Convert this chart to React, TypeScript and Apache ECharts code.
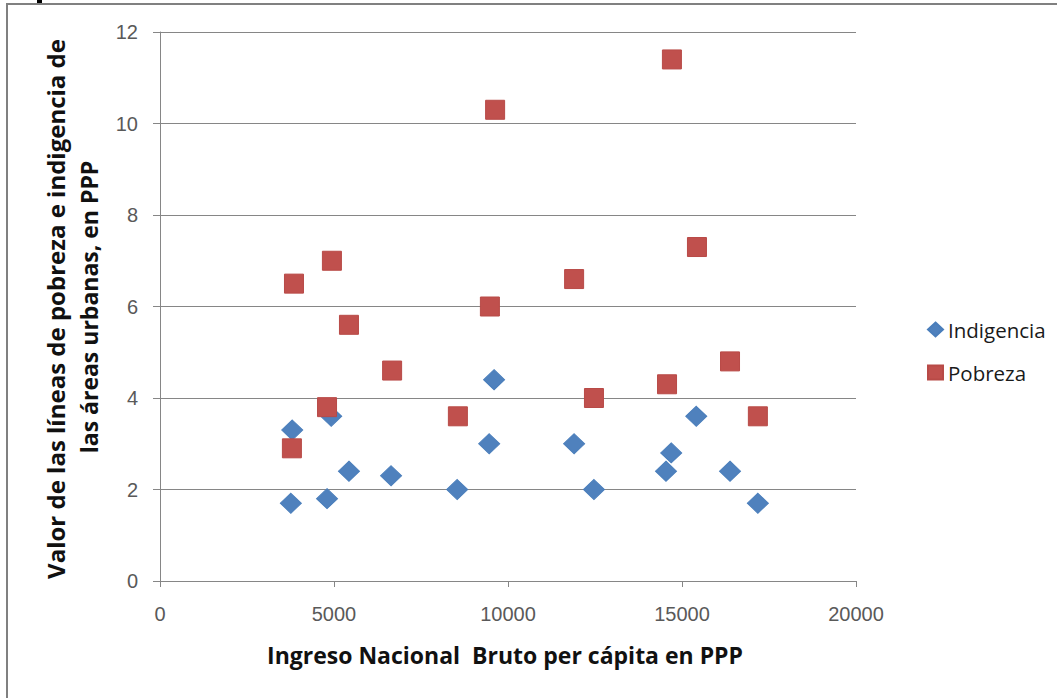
import React, { useEffect, useRef } from "react";
import * as echarts from "echarts";

const seriesNames = ["Indigencia", "Pobreza"];

const indigenciaX = [3800, 3760, 4920, 4800, 5430, 6640, 8540, 9460, 9600, 11900, 12470, 14540, 14690, 15410, 16380, 17180];
const indigenciaY = [3.3, 1.7, 3.6, 1.8, 2.4, 2.3, 2.0, 3.0, 4.4, 3.0, 2.0, 2.4, 2.8, 3.6, 2.4, 1.7];

const pobrezaX = [3850, 3790, 4940, 4800, 5430, 6670, 8560, 9480, 9630, 11900, 12470, 14570, 14710, 15430, 16380, 17180];
const pobrezaY = [6.5, 2.9, 7.0, 3.8, 5.6, 4.6, 3.6, 6.0, 10.3, 6.6, 4.0, 4.3, 11.4, 7.3, 4.8, 3.6];

const xTitle = "Ingreso Nacional  Bruto per cápita en PPP";
const yTitleLine1 = "Valor de las líneas de pobreza e indigencia de";
const yTitleLine2 = "las áreas urbanas, en PPP";

const xMin = 0, xMax = 20000, xStep = 5000;
const yMin = 0, yMax = 12, yStep = 2;

export default function App() {
  const ref = useRef<HTMLDivElement>(null);
  useEffect(() => {
    if (!ref.current) return;
    const chart = echarts.init(ref.current, undefined, { renderer: "svg" });
    const pair = (xs: number[], ys: number[]) => xs.map((x, i) => [x, ys[i]]);
    const gray = "#868686";
    const tickFont = { fontFamily: "Liberation Sans", fontSize: 20, color: "#595959" };
    chart.setOption({
      animation: false,
      backgroundColor: "#ffffff",
      grid: { left: 160, right: 201, top: 32, bottom: 117, containLabel: false },
      xAxis: {
        type: "value", min: xMin, max: xMax, interval: xStep,
        axisLine: { show: true, lineStyle: { color: gray, width: 1 } },
        axisTick: { show: true, length: 6, lineStyle: { color: gray } },
        splitLine: { show: false },
        axisLabel: { ...tickFont, margin: 23, formatter: (v: number) => String(v) },
      },
      yAxis: {
        type: "value", min: yMin, max: yMax, interval: yStep,
        axisLine: { show: true, lineStyle: { color: gray, width: 1 } },
        axisTick: { show: true, length: 7, lineStyle: { color: gray } },
        splitLine: { show: true, lineStyle: { color: gray, width: 1 } },
        axisLabel: { ...tickFont, margin: 22, formatter: (v: number) => String(v) },
      },
      legend: {
        orient: "vertical",
        left: 927,
        top: 319,
        padding: 0,
        itemWidth: 15,
        itemHeight: 14,
        itemGap: 22,
        textStyle: { fontFamily: "Open Sans", fontSize: 20.5, color: "#1a1a1a", padding: [0, 0, 0, 0] },
        data: [
          { name: seriesNames[0], icon: "diamond" },
          { name: seriesNames[1], icon: "rect" },
        ],
      },
      series: [
        {
          name: seriesNames[0],
          type: "scatter",
          symbol: "diamond",
          symbolSize: [21, 20],
          itemStyle: { color: "#4F81BD", borderColor: "#4A7EBB", borderWidth: 1, opacity: 1 },
          data: pair(indigenciaX, indigenciaY),
          z: 2,
        },
        {
          name: seriesNames[1],
          type: "scatter",
          symbol: "rect",
          symbolSize: 19,
          itemStyle: { color: "#C0504D", borderColor: "#B84A47", borderWidth: 1, opacity: 1 },
          data: pair(pobrezaX, pobrezaY),
          z: 3,
        },
      ],
      graphic: [
        { type: "line", shape: { x1: 6, y1: 4, x2: 1057, y2: 4 }, style: { stroke: "#808080", lineWidth: 2 }, silent: true },
        { type: "line", shape: { x1: 7, y1: 4, x2: 7, y2: 698 }, style: { stroke: "#808080", lineWidth: 2 }, silent: true },
        { type: "rect", shape: { x: 37, y: 0, width: 5, height: 3 }, style: { fill: "#000" }, silent: true },
        {
          type: "text", x: 55, y: 309, rotation: Math.PI / 2,
          style: { text: yTitleLine1, fontFamily: "Open Sans", fontWeight: "bold", fontSize: 24, fill: "#111", align: "center", verticalAlign: "middle" },
          silent: true,
        },
        {
          type: "text", x: 89, y: 307, rotation: Math.PI / 2,
          style: { text: yTitleLine2, fontFamily: "Open Sans", fontWeight: "bold", fontSize: 23, fill: "#111", align: "center", verticalAlign: "middle" },
          silent: true,
        },
        {
          type: "text", x: 505, y: 655,
          style: { text: xTitle, fontFamily: "Open Sans", fontWeight: "bold", fontSize: 23, fill: "#111", align: "center", verticalAlign: "middle" },
          silent: true,
        },
      ],
    });
    return () => chart.dispose();
  }, []);
  return <div ref={ref} style={{ position: "absolute", left: 0, top: 0, width: 1057, height: 698 }} />;
}
